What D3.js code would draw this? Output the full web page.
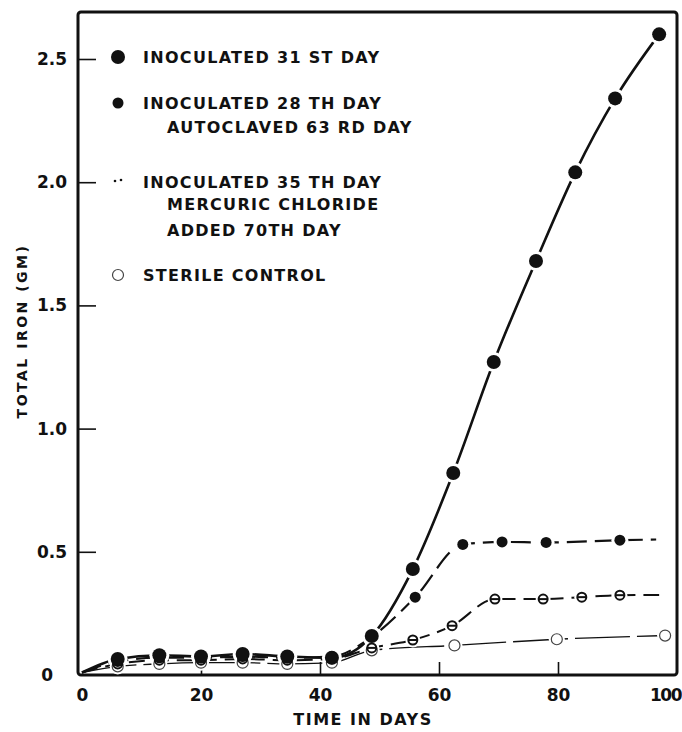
<!DOCTYPE html>
<html>
<head>
<meta charset="utf-8">
<script src="https://cdn.jsdelivr.net/npm/d3@7"></script>
<style>
  body { margin: 0; background: #fff; }
  text { font-family: "DejaVu Sans", sans-serif; font-weight: bold; fill: #111; }
</style>
</head>
<body>
<svg id="chart" width="682" height="732"></svg>
<script>
// values (days, total iron in gm)
var days31 = [0, 6, 13, 20, 27, 34.5, 42, 48.7, 55.6, 62.4, 69.2, 76.3, 82.9, 89.6, 97];
var iron31 = [0.01, 0.065, 0.08, 0.075, 0.085, 0.075, 0.07, 0.158, 0.43, 0.82, 1.27, 1.68, 2.04, 2.34, 2.60];

var days28 = [0, 6, 13, 20, 27, 34.5, 42, 48.7, 56, 64, 70.6, 78, 90.4, 96.5];
var iron28 = [0.01, 0.055, 0.07, 0.07, 0.075, 0.07, 0.075, 0.155, 0.316, 0.53, 0.54, 0.538, 0.547, 0.55];

var days35 = [0, 6, 13, 20, 27, 34.5, 42, 48.7, 55.6, 62.2, 69.4, 77.5, 84, 90.4, 97];
var iron35 = [0.01, 0.045, 0.06, 0.06, 0.065, 0.06, 0.065, 0.11, 0.142, 0.2, 0.308, 0.308, 0.316, 0.324, 0.325];

var daysSterile = [0, 6, 13, 20, 27, 34.5, 42, 48.7, 62.6, 79.8, 98];
var ironSterile = [0.01, 0.035, 0.045, 0.05, 0.05, 0.045, 0.05, 0.1, 0.12, 0.145, 0.16];

var xTicks = [0, 20, 40, 60, 80, 100];
var yTicks = [0, 0.5, 1.0, 1.5, 2.0, 2.5];

var legendLines = [
  ["INOCULATED 31 ST DAY"],
  ["INOCULATED 28 TH DAY", "AUTOCLAVED 63 RD DAY"],
  ["INOCULATED 35 TH DAY", "MERCURIC CHLORIDE", "ADDED 70TH DAY"],
  ["STERILE CONTROL"]
];

var svg = d3.select("#chart"),
    frameL = 78, frameR = 677, frameT = 12, frameB = 675;

var x = d3.scaleLinear().domain([0, 100]).range([82, 677]);
var y = d3.scaleLinear().domain([0, 2.5]).range([675, 59]);

function pts(ds, vs) { return ds.map(function(d, i) { return {d: d, v: vs[i]}; }); }

var series = [
  {data: pts(days31, iron31), width: 2.6, dash: null, mark: "big", lastMarked: 99},
  {data: pts(days28, iron28), width: 2.2, dash: "20,8", mark: "dot", lastMarked: 95},
  {data: pts(days35, iron35), width: 2, dash: "16,8", mark: "bar", lastMarked: 95},
  {data: pts(daysSterile, ironSterile), width: 1.3, dash: "55,7", mark: "open", lastMarked: 99}
];

// frame
svg.append("rect")
    .attr("x", frameL).attr("y", frameT)
    .attr("width", frameR - frameL).attr("height", frameB - frameT)
    .attr("rx", 3)
    .attr("fill", "none").attr("stroke", "#111").attr("stroke-width", 3);

// axes
var yAxis = svg.append("g")
    .attr("transform", "translate(" + frameL + ",0)")
    .call(d3.axisLeft(y).tickValues(yTicks).tickSize(-18).tickPadding(11)
      .tickFormat(function(d) { return d === 0 ? "0" : d3.format(".1f")(d); }));
yAxis.select(".domain").remove();
yAxis.selectAll("line").attr("stroke", "#111").attr("stroke-width", 1.6);
yAxis.selectAll(".tick").filter(function(d) { return d === 0; }).select("line").remove();
yAxis.selectAll(".tick").filter(function(d) { return d === 0; }).select("text").attr("x", -25);
yAxis.selectAll("text").attr("font-size", 17).attr("font-family", null).attr("fill", null);

var xAxis = svg.append("g")
    .attr("transform", "translate(0," + frameB + ")")
    .call(d3.axisBottom(x).tickValues(xTicks).tickSize(-13).tickPadding(14));
xAxis.select(".domain").remove();
xAxis.selectAll("line").attr("stroke", "#111").attr("stroke-width", 1.6);
xAxis.selectAll(".tick").filter(function(d) { return d === 0 || d === 100; }).select("line").remove();
xAxis.selectAll(".tick").filter(function(d) { return d === 100; }).select("text")
    .attr("x", -12).attr("letter-spacing", -1.5);
xAxis.selectAll("text").attr("font-size", 17).attr("font-family", null).attr("fill", null);

svg.append("text")
    .attr("x", 363).attr("y", 725)
    .attr("text-anchor", "middle")
    .attr("font-size", 16).attr("letter-spacing", 1.5)
    .text("TIME IN DAYS");

svg.append("text")
    .attr("transform", "translate(27,331) rotate(-90)")
    .attr("text-anchor", "middle")
    .attr("font-size", 14).attr("letter-spacing", 2.5)
    .text("TOTAL IRON (GM)");

// lines
var line = d3.line()
    .x(function(p) { return x(p.d); })
    .y(function(p) { return y(p.v); })
    .curve(d3.curveMonotoneX);

series.forEach(function(s) {
  svg.append("path")
      .datum(s.data)
      .attr("d", line)
      .attr("fill", "none")
      .attr("stroke", "#111")
      .attr("stroke-width", s.width)
      .attr("stroke-dasharray", s.dash)
      .attr("stroke-linecap", "butt");
});

function marked(s) {
  return s.data.filter(function(p) { return p.d > 0 && p.d < s.lastMarked; });
}

function drawMark(g, kind, cx, cy) {
  if (kind === "big") {
    g.append("circle").attr("cx", cx).attr("cy", cy).attr("r", 7).attr("fill", "#111");
  } else if (kind === "dot") {
    g.append("circle").attr("cx", cx).attr("cy", cy).attr("r", 5.5).attr("fill", "#111");
  } else if (kind === "bar") {
    g.append("circle").attr("cx", cx).attr("cy", cy).attr("r", 4.5)
        .attr("fill", "#fff").attr("stroke", "#111").attr("stroke-width", 2);
    g.append("line").attr("x1", cx - 4.5).attr("x2", cx + 4.5).attr("y1", cy).attr("y2", cy)
        .attr("stroke", "#111").attr("stroke-width", 2);
  } else {
    g.append("circle").attr("cx", cx).attr("cy", cy).attr("r", 5.5)
        .attr("fill", "#fff").attr("stroke", "#444").attr("stroke-width", 1.2);
  }
}

var haloR = {big: 10, dot: 8.5, bar: 7.5, open: 8};

// white halos break the lines around the markers
var halos = svg.append("g");
series.forEach(function(s) {
  halos.selectAll(null)
      .data(marked(s))
      .enter().append("circle")
      .attr("cx", function(p) { return x(p.d); })
      .attr("cy", function(p) { return y(p.v); })
      .attr("r", haloR[s.mark])
      .attr("fill", "#fff");
});

var marks = svg.append("g");
series.slice().reverse().forEach(function(s) {
  marked(s).forEach(function(p) { drawMark(marks, s.mark, x(p.d), y(p.v)); });
});

// legend
var legendY = [57, 103, 182, 275];
var legendKinds = ["big", "dot", "pair", "open"];
var legend = svg.append("g");
legendLines.forEach(function(lines, i) {
  var ly = legendY[i];
  if (legendKinds[i] === "pair") {
    legend.append("circle").attr("cx", 115).attr("cy", ly - 1).attr("r", 1.3).attr("fill", "#111");
    legend.append("circle").attr("cx", 121).attr("cy", ly - 2).attr("r", 1.3).attr("fill", "#111");
  } else {
    drawMark(legend, legendKinds[i], 118, ly);
  }
  var yy = ly + 6;
  lines.forEach(function(t, j) {
    if (j > 0) yy += (i === 2 ? (j === 1 ? 22 : 26) : 24);
    legend.append("text")
        .attr("x", j === 0 ? 143 : 167)
        .attr("y", yy)
        .attr("font-size", 16)
        .attr("letter-spacing", 1.3)
        .text(t);
  });
});
</script>
</body>
</html>
